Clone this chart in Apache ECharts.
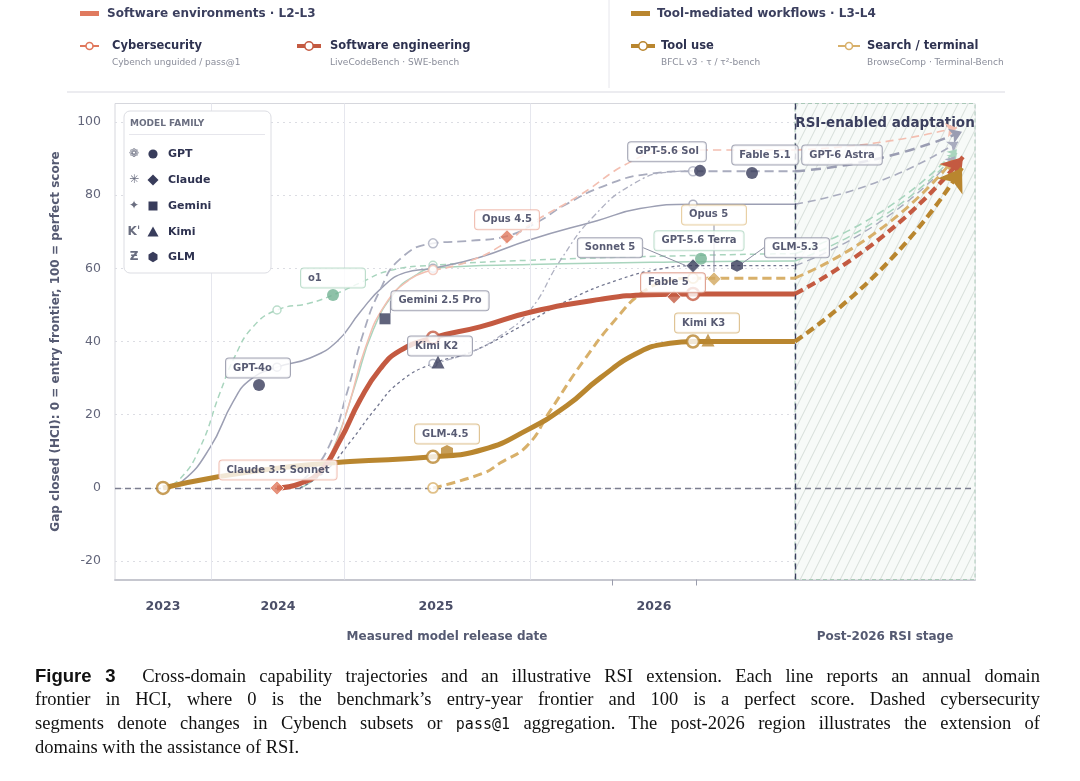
<!DOCTYPE html>
<html>
<head>
<meta charset="utf-8">
<script src="https://cdn.jsdelivr.net/npm/echarts@6/dist/echarts.min.js"></script>
<style>
html,body{margin:0;padding:0;background:#fff;}
#chart{position:absolute;left:0;top:0;width:1080px;height:781px;}
#cap{position:absolute;left:35px;top:664px;width:1005px;font-family:"Liberation Serif","DejaVu Serif",serif;font-size:18.5px;line-height:23.4px;color:#111;}
#cap div.j{text-align:justify;text-align-last:justify;}
#cap b{font-family:"Liberation Sans Narrow","Liberation Sans",sans-serif;font-weight:bold;}
#cap code{font-family:"DejaVu Sans Mono",monospace;font-size:15px;}
</style>
</head>
<body>
<div id="chart"></div>
<div id="cap">
<div class="j"><b>Figure 3</b>&nbsp;&nbsp;Cross-domain capability trajectories and an illustrative RSI extension. Each line reports an annual domain</div>
<div class="j">frontier in HCI, where 0 is the benchmark’s entry-year frontier and 100 is a perfect score. Dashed cybersecurity</div>
<div class="j">segments denote changes in Cybench subsets or <code>pass@1</code> aggregation. The post-2026 region illustrates the extension of</div>
<div>domains with the assistance of RSI.</div>
</div>
<script>
// ---------- axis positions (timeline index) and tick labels ----------
const yearTicks = [4.8, 16.3, 32.1, 53.9];
const yearLabels = ['2023', '2024', '2025', '2026'];
const minorTicks = [49.7, 58.1];
const vGrid = [9.6, 22.9, 41.5];
const yTicks = [-20, 0, 20, 40, 60, 80, 100];
const rsiStart = 68.0;
const xMax = 86;

// ---------- domain frontier lines [timeline, HCI] ----------
const sweLine = [[16.2,0],[18.5,1.2],[20.5,4.5],[22.5,13],[24.5,24],[26.5,32.5],[28.5,37.5],[31.8,41],[36.5,44],[41.5,48],[48.5,51.5],[53.5,52.8],[57.8,53],[68,53]];
const toolLine = [[4.8,0],[10.2,3],[16.8,5.6],[23.5,7.2],[31.8,8.5],[36.8,10.5],[41.2,15.8],[45.2,22.5],[48.5,30],[52.5,37.2],[55.5,39.5],[57.8,40],[68,40]];
const searchLine = [[31.8,0],[36.8,4],[38.5,6.8],[41.2,11.5],[43.5,21],[46.8,34.5],[50.2,46.5],[52.8,53.5],[55.3,56.5],[57.8,57.3],[68,57.3]];
const cyberSolid = [[16.2,0],[19.5,2.5],[21.5,9],[23.3,22],[25,38],[27,50],[29.5,57],[31.8,59.5]];
const cyberDashed = [[31.8,59.5],[35.5,62],[39.2,67.2],[41.5,72],[46.5,80],[51.5,89],[54.8,91.8],[60,92.3],[68,92.3]];
const greySolid = [[4.8,0],[6.8,2],[9.5,11],[11.8,23.5],[13.5,29.5],[16.2,33],[19.5,35.5],[22.2,40],[24.5,48],[26.8,55],[29,58.8],[31.8,60],[36.5,63],[41.5,67.8],[48.2,73],[52.5,76.3],[57.8,77.5],[68,77.5]];
const greenDashed = [[4.8,0],[6.5,2.5],[8.5,11],[10.5,26],[12,36],[13.8,44],[16.2,48.6],[19.5,50.5],[21.8,52.7],[24.5,56],[27.5,59.4],[31.8,60.8],[41.5,62.2],[57.8,63.5],[68,64]];
const greenSolid = [[18.5,0],[20.5,4],[22.3,14],[24,28],[25.8,43],[28,53.5],[30,58],[31.8,60],[41.5,61],[57.8,61.8],[68,62]];
const greyLong = [[17.5,0],[19.5,4],[21.5,12],[23.2,26],[24.8,42],[26.5,54],[28.5,62.5],[31.8,66.8],[35.5,67.5],[39.2,68.8],[42.5,73],[44.8,77],[49.2,82.8],[53.5,85.8],[57.8,86.5],[68,86.5]];
const navyDash = [[18.5,0],[21,4.5],[23.5,12.5],[26,21.5],[28.5,29],[31.8,34],[35.5,37],[40.5,44],[45.5,51.5],[50.5,57],[54.5,59.8],[57.8,60.7],[68,60.7]];
const greyDashDot = [[31.8,34],[35.5,37],[38.5,41.5],[41.5,48.5],[44.5,62],[47.8,74],[51.8,83],[55.5,86.3],[57.8,86.6]];

// ---------- annual frontier points ----------
const sweAnnual = [[31.8,41],[57.8,53]];
const toolAnnual = [[4.8,0],[31.8,8.5],[57.8,40]];
const searchAnnual = [[31.8,0],[57.8,57.3]];
const cyberAnnual = [[31.8,59.5]];
const greySolidAnnual = [[16.2,33],[31.8,60],[57.8,77.5]];
const greenAnnual = [[16.2,48.6],[31.8,60.8]];
const greyLongAnnual = [[31.8,66.8],[57.8,86.5]];
const navyAnnual = [[31.8,34]];

// ---------- RSI extensions: start -> arrow end ----------
const rsiNames = ['cyber','greyLong','greySolid','greenDashed','greenSolid','navy','search','swe','tool'];
const rsiFrom = [[68,92.3],[68,86.5],[68,77.5],[68,64],[68,62],[68,60.7],[68,57.3],[68,53],[68,40]];
const rsiTo = [[84.2,98.4],[84.7,97.3],[84.3,94.5],[84.2,92.5],[84.2,91.5],[84.0,90.5],[83.8,89.5],[84.8,90.4],[84.7,87.4]];

// ---------- models ----------
const modelNames = ['GPT-4o','o1','Claude 3.5 Sonnet','Gemini 2.5 Pro','Kimi K2','GLM-4.5','Opus 4.5','GPT-5.6 Sol','Fable 5.1','GPT-6 Astra','Opus 5','Sonnet 5','GPT-5.6 Terra','GLM-5.3','Fable 5','Kimi K3'];
const modelX = [14.4,21.8,16.2,27.0,32.3,33.2,39.2,58.5,63.7,72.7,59.9,57.8,58.6,62.2,55.9,59.3];
const modelY = [28.1,52.7,0,46.2,34.4,10.1,68.6,86.6,86.0,88.2,57.1,60.7,62.6,60.7,52.2,40.4];
const modelFamily = ['GPT','GPT','Claude','Gemini','Kimi','GLM','Claude','GPT','GPT','none','Claude','Claude','GPT','GLM','Claude','Kimi'];
const modelDomain = ['general','green','cyber','general','general','tool','cyber','general','general','general','search','general','green','general','swe','tool'];

// ---------- styles ----------
const C = {
  navy:'#383c5b', coral:'#e0785c', swe:'#c45a41', tool:'#b9862f', search:'#d8b06a',
  pink:'#f3bfb1', green:'#a9d5be', greenDark:'#72b292', grey:'#9c9fb3', greyL:'#a9acbe', navyL:'#72768f'
};
const domainColor = {general:C.navy, cyber:C.coral, swe:C.swe, tool:C.tool, search:'#d2a85e', green:C.greenDark};
const domainBorder = {general:'#8d90a3', cyber:'#eeb2a2', swe:'#d88d79', tool:'#d7b57a', search:'#e2c48e', green:'#aed6c0'};
const familySymbol = {GPT:'circle', Claude:'diamond', Gemini:'rect', Kimi:'triangle', GLM:'path://M0,-10L8.66,-5L8.66,5L0,10L-8.66,5L-8.66,-5Z', none:'circle'};
const familySize = {GPT:12, Claude:14, Gemini:11, Kimi:13, GLM:12, none:1};
const labelOffsets = {
  'GPT-4o':[-1,-17], 'o1':[0,-17], 'Claude 3.5 Sonnet':[1,-18], 'Gemini 2.5 Pro':[55,-18], 'Kimi K2':[2,-16],
  'GLM-4.5':[0,-17], 'Opus 4.5':[0,-17], 'GPT-5.6 Sol':[-33,-19], 'Fable 5.1':[13,-18], 'GPT-6 Astra':[0,-10],
  'Opus 5':[0,-64], 'Sonnet 5':[-83,-18], 'GPT-5.6 Terra':[-2,-18], 'GLM-5.3':[60,-18], 'Fable 5':[-1,-14], 'Kimi K3':[-1,-17]
};
const leaderLabels = ['Gemini 2.5 Pro','Opus 5','Sonnet 5','GLM-5.3'];
const FONT = 'DejaVu Sans';
const LABEL_FONT_SIZE = 10;
const LABEL_MIN_TEXT = 50;

const measureCtx = document.createElement('canvas').getContext('2d');
function textW(s, font) { measureCtx.font = font; return measureCtx.measureText(s).width; }

function hatch() {
  const c = document.createElement('canvas');
  c.width = 10; c.height = 20;
  const g = c.getContext('2d');
  g.fillStyle = '#f7faf8'; g.fillRect(0, 0, 10, 20);
  g.strokeStyle = 'rgba(165,180,172,0.45)'; g.lineWidth = 0.9;
  g.beginPath();
  g.moveTo(0, 20); g.lineTo(10, 0);
  g.moveTo(-10, 20); g.lineTo(0, 0);
  g.moveTo(10, 20); g.lineTo(20, 0);
  g.stroke();
  return c;
}

function line(name, data, color, width, type, z) {
  return {
    name, type:'line', data, smooth:0.5, symbol:'none', showSymbol:false,
    lineStyle:{color, width, type: type || 'solid', cap:'butt', join:'round'},
    z: z || 3, silent:true, emphasis:{disabled:true}, animation:false
  };
}
function annual(name, data, color, size, bw, z) {
  return {
    name, type:'scatter', data, symbol:'circle', symbolSize:size,
    itemStyle:{color:'#fff', borderColor:color, borderWidth:bw},
    z: z || 8, silent:true, animation:false
  };
}
function rsi(i, color, width, dash, curv, size, z) {
  return {
    name:'rsi-' + rsiNames[i], type:'lines', coordinateSystem:'cartesian2d',
    data:[{coords:[rsiFrom[i], rsiTo[i]]}],
    lineStyle:{color, width, type:dash, curveness:curv, opacity:1},
    symbol:['none','arrow'], symbolSize:size, z: z || 4, silent:true, animation:false
  };
}

const modelData = modelNames.map((n, i) => {
  const fam = modelFamily[i], dom = modelDomain[i];
  const w = textW(n, 'bold ' + LABEL_FONT_SIZE + 'px ' + FONT);
  const extra = Math.max(0, LABEL_MIN_TEXT - w);
  return {
    name:n, value:[modelX[i], modelY[i]],
    symbol: familySymbol[fam], symbolSize: familySize[fam],
    itemStyle:{color: fam === 'none' ? 'rgba(0,0,0,0)' : domainColor[dom], borderColor: fam === 'Claude' ? '#fff' : 'rgba(0,0,0,0)', borderWidth: fam === 'Claude' ? 1 : 0},
    label:{
      show:true, formatter:n, position:'inside',
      backgroundColor:'#fff', borderColor:domainBorder[dom], borderWidth:1, borderRadius:3,
      padding:[4, 7 + extra, 3, 7], lineHeight:12,
      fontFamily:FONT, fontSize:LABEL_FONT_SIZE, fontWeight:'bold', color:'#2e3250'
    },
    labelLine:{show: leaderLabels.indexOf(n) >= 0, lineStyle:{color:'#8d90a3', width:1}}
  };
});

const hatchCanvas = hatch();

const series = [
  {
    name:'frame', type:'line', data:[], z:1, silent:true, animation:false,
    markArea:{
      silent:true,
      itemStyle:{color:{image:hatchCanvas, repeat:'repeat'}, borderColor:'#a9c8b7', borderWidth:1, borderType:[4,3]},
      label:{show:true, position:'insideTop', distance:13, formatter:'RSI-enabled adaptation', fontFamily:FONT, fontSize:13.5, fontWeight:'bold', color:'#3b3f5e'},
      data:[[{xAxis:rsiStart}, {xAxis:xMax}]]
    },
    markLine:{
      silent:true, symbol:['none','none'], label:{show:false}, animation:false,
      data: vGrid.map(v => ({xAxis:v, lineStyle:{color:'#e6e7ee', width:1, type:'solid'}})).concat([
        {yAxis:0, lineStyle:{color:'#7b7e90', width:1.3, type:[6,4]}},
        {xAxis:rsiStart, lineStyle:{color:'#3b3f5e', width:1.4, type:[6,4]}}
      ])
    }
  },
  // background benchmark lines
  line('greenDashed', greenDashed, C.green, 1.5, [6,4], 3),
  line('greenSolid', greenSolid, C.green, 1.5, 'solid', 3),
  line('greySolid', greySolid, C.grey, 1.5, 'solid', 3),
  line('greyLong', greyLong, C.greyL, 1.8, [9,5], 3),
  line('navyDash', navyDash, C.navyL, 1.3, [3,3], 3),
  line('greyDashDot', greyDashDot, '#aeb0c1', 1.3, [6,3,2,3], 3),
  line('cyberSolid', cyberSolid, C.pink, 1.5, 'solid', 3),
  line('cyberDashed', cyberDashed, C.pink, 1.6, [8,5], 3),
  // RSI extensions
  rsi(0, C.pink, 1.6, [8,5], -0.05, 11, 4),
  rsi(1, '#9a9db2', 2.5, [10,6], -0.08, 12, 4),
  rsi(2, C.greyL, 1.6, [8,5], -0.1, 10, 4),
  rsi(3, C.green, 1.6, [8,5], -0.12, 9, 4),
  rsi(4, C.green, 1.5, [8,5], -0.12, 9, 4),
  rsi(5, C.greyL, 1.4, [8,5], -0.12, 9, 4),
  rsi(6, C.search, 3, [9,5], -0.12, 12, 5),
  rsi(7, C.swe, 4.2, [9,5], -0.1, 20, 6),
  rsi(8, C.tool, 4.2, [9,5], -0.1, 22, 6),
  // domain frontier lines
  line('Search / terminal', searchLine, C.search, 3, [9,5], 5),
  line('Tool use', toolLine, C.tool, 5, 'solid', 6),
  line('Software engineering', sweLine, C.swe, 5, 'solid', 6),
  // annual points
  annual('a-green', greenAnnual, C.green, 8, 1.5),
  annual('a-grey', greySolidAnnual, C.grey, 8, 1.5),
  annual('a-greyLong', greyLongAnnual, C.greyL, 9, 1.5),
  annual('a-navy', navyAnnual, C.greyL, 8, 1.5),
  annual('a-cyber', cyberAnnual, C.pink, 9, 1.5),
  annual('a-search', searchAnnual, C.search, 10, 1.8),
  annual('a-tool', toolAnnual, C.tool, 12, 2.5, 9),
  annual('a-swe', sweAnnual, C.swe, 12, 2.5, 9),
  // models
  {
    name:'models', type:'scatter', data:modelData, z:12, silent:true, animation:false,
    labelLayout: function (p) {
      const o = labelOffsets[modelNames[p.dataIndex]] || [0,-17];
      return {dx:o[0], dy:o[1]};
    }
  }
];

// ---------- legend & annotation graphics ----------
const T = (x, y, text, font, fill, align) => ({type:'text', x, y, silent:true, z:100,
  style:{text, font, fill, align: align || 'left', verticalAlign:'middle'}});
const legendItems = [
  {x:80, w:19, lw:2, r:3.5, color:C.coral, tx:112, title:'Cybersecurity', sub:'Cybench unguided / pass@1'},
  {x:297, w:24, lw:4, r:4.2, color:C.swe, tx:330, title:'Software engineering', sub:'LiveCodeBench · SWE-bench'},
  {x:631, w:24, lw:4, r:4.2, color:C.tool, tx:661, title:'Tool use', sub:'BFCL v3 · τ / τ²-bench'},
  {x:838, w:22, lw:2, r:3.5, color:C.search, tx:867, title:'Search / terminal', sub:'BrowseComp · Terminal-Bench'}
];
const graphics = [
  {type:'rect', shape:{x:80, y:11, width:19, height:5}, style:{fill:'#e07a5f'}, silent:true, z:100},
  T(107, 13.5, 'Software environments · L2-L3', 'bold 12px ' + FONT, '#3b3f5e'),
  {type:'rect', shape:{x:631, y:11, width:19, height:5}, style:{fill:C.tool}, silent:true, z:100},
  T(657, 13.5, 'Tool-mediated workflows · L3-L4', 'bold 12px ' + FONT, '#3b3f5e'),
  {type:'line', shape:{x1:609, y1:0, x2:609, y2:88}, style:{stroke:'#e6e6ec', lineWidth:1}, silent:true, z:100},
  {type:'line', shape:{x1:67, y1:92, x2:1005, y2:92}, style:{stroke:'#ececf0', lineWidth:2}, silent:true, z:100},
  T(447, 637, 'Measured model release date', 'bold 12px ' + FONT, '#555a72', 'center'),
  T(885, 637, 'Post-2026 RSI stage', 'bold 12px ' + FONT, '#555a72', 'center')
];
legendItems.forEach(it => {
  graphics.push({type:'line', shape:{x1:it.x, y1:46, x2:it.x + it.w, y2:46}, style:{stroke:it.color, lineWidth:it.lw}, silent:true, z:100});
  graphics.push({type:'circle', shape:{cx:it.x + it.w / 2, cy:46, r:it.r}, style:{fill:'#fff', stroke:it.color, lineWidth:1.6}, silent:true, z:101});
  graphics.push(T(it.tx, 46.5, it.title, 'bold 11.5px ' + FONT, '#2e3250'));
  graphics.push(T(it.tx, 62.5, it.sub, '9px ' + FONT, '#8a8d9a'));
});
// model family box
const famRows = [
  {icon:'❁', name:'GPT', shape:'circle'},
  {icon:'✳', name:'Claude', shape:'diamond'},
  {icon:'✦', name:'Gemini', shape:'square'},
  {icon:'Kˈ', name:'Kimi', shape:'triangle'},
  {icon:'Ƶ', name:'GLM', shape:'hexagon'}
];
graphics.push({type:'rect', shape:{x:124, y:111, width:147, height:162, r:6}, style:{fill:'#fff', stroke:'#dcdde3', lineWidth:1}, silent:true, z:100});
graphics.push(T(130, 123.5, 'MODEL FAMILY', 'bold 9px ' + FONT, '#6a6e80'));
graphics.push({type:'line', shape:{x1:129, y1:134.5, x2:265, y2:134.5}, style:{stroke:'#e6e6ec', lineWidth:1.2}, silent:true, z:101});
const famY = [154, 180, 206, 232, 257];
famRows.forEach((r, i) => {
  const y = famY[i], cx = 153;
  graphics.push(T(134, y, r.icon, 'bold 12px ' + FONT, '#6a6e80', 'center'));
  let shp;
  if (r.shape === 'circle') shp = {type:'circle', shape:{cx, cy:y, r:4.6}};
  else if (r.shape === 'diamond') shp = {type:'polygon', shape:{points:[[cx, y - 5.5], [cx + 5.5, y], [cx, y + 5.5], [cx - 5.5, y]]}};
  else if (r.shape === 'square') shp = {type:'rect', shape:{x:cx - 4.5, y:y - 4.5, width:9, height:9}};
  else if (r.shape === 'triangle') shp = {type:'polygon', shape:{points:[[cx, y - 5.5], [cx + 5.5, y + 4.5], [cx - 5.5, y + 4.5]]}};
  else shp = {type:'polygon', shape:{points:[[cx, y - 5.2], [cx + 4.5, y - 2.6], [cx + 4.5, y + 2.6], [cx, y + 5.2], [cx - 4.5, y + 2.6], [cx - 4.5, y - 2.6]]}};
  shp.style = {fill:C.navy}; shp.silent = true; shp.z = 101;
  graphics.push(shp);
  graphics.push(T(168, y, r.name, 'bold 11px ' + FONT, '#2e3250'));
});

const chart = echarts.init(document.getElementById('chart'), null, {renderer:'canvas'});
chart.setOption({
  animation:false,
  backgroundColor:'#fff',
  textStyle:{fontFamily:FONT},
  grid:{left:115, right:105, top:103.5, bottom:201.5, show:true, borderColor:'#d6d7dd', borderWidth:1, containLabel:false},
  xAxis:{
    type:'value', min:0, max:xMax,
    axisLine:{show:true, onZero:false, lineStyle:{color:'#c6c7cf', width:2}},
    axisTick:{show:true, customValues:minorTicks, length:6, lineStyle:{color:'#9a9cac'}},
    axisLabel:{customValues:yearTicks, formatter:v => { const i = yearTicks.indexOf(v); return i >= 0 ? yearLabels[i] : ''; },
      fontWeight:'bold', fontSize:12.5, color:'#4b4f68', margin:21},
    splitLine:{show:false}
  },
  yAxis:{
    type:'value', min:-25, max:105,
    name:'Gap closed (HCI): 0 = entry frontier, 100 = perfect score', nameLocation:'middle', nameGap:53,
    nameTextStyle:{fontWeight:'bold', fontSize:12, color:'#555a72'},
    axisLine:{show:false}, axisTick:{show:false, customValues:yTicks},
    axisLabel:{customValues:yTicks, color:'#62657a', fontSize:12.5, margin:14},
    splitLine:{show:true, lineStyle:{color:'#dcdde3', type:[2,4]}}
  },
  graphic:graphics,
  series
});
</script>
</body>
</html>
